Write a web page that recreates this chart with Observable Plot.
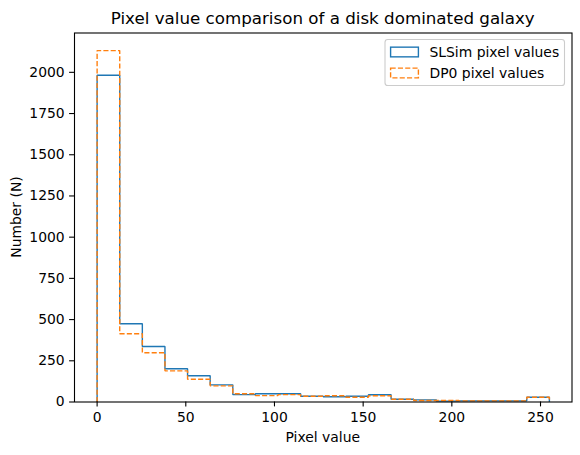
<!DOCTYPE html>
<html>
<head>
<meta charset="utf-8">
<script src="https://cdn.jsdelivr.net/npm/d3@7"></script>
<script src="https://cdn.jsdelivr.net/npm/@observablehq/plot@0.6"></script>
<style>
  html, body { margin: 0; padding: 0; background: white; }
  svg { display: block; }
</style>
</head>
<body>
<div id="chart"></div>
<script>
// Histogram bin edges: 20 bins from 0 to 255
const binStart = 0;
const binWidth = 12.75;
const slsimCounts = [1982, 475, 337, 202, 159, 104, 45, 50, 50, 35, 32, 35, 44, 17, 13, 5, 7, 7, 7, 29];
const dp0Counts   = [2132, 414, 299, 189, 138, 98, 50, 39, 45, 35, 38, 29, 38, 17, 9, 9, 7, 7, 7, 29];
const seriesNames = ["SLSim pixel values", "DP0 pixel values"];
const xTicks = [0, 50, 100, 150, 200, 250];
const yTicks = [0, 250, 500, 750, 1000, 1250, 1500, 1750, 2000];
const titleText = "Pixel value comparison of a disk dominated galaxy";
const xLabel = "Pixel value";
const yLabel = "Number (N)";

function stepPoints(counts) {
  const pts = [{x: binStart, y: 0}];
  counts.forEach((c, i) => {
    pts.push({x: binStart + i * binWidth, y: c});
    pts.push({x: binStart + (i + 1) * binWidth, y: c});
  });
  pts.push({x: binStart + counts.length * binWidth, y: 0});
  return pts;
}
const slsimPts = stepPoints(slsimCounts);
const dp0Pts = stepPoints(dp0Counts);

const xMax = binStart + slsimCounts.length * binWidth;
const xPad = (xMax - binStart) * 0.05;
const yMax = Math.max(...slsimCounts, ...dp0Counts) * 1.05;

const W = 580, H = 455;
const mL = 74, mR = 8.5, mT = 32.5, mB = 53.5;
const blue = "#1f77b4", orange = "#ff7f0e";
const lw = 1.39, dash = "5.1,2.2";

const chart = Plot.plot({
  width: W, height: H,
  marginLeft: mL, marginRight: mR, marginTop: mT, marginBottom: mB,
  style: {fontFamily: "DejaVu Sans", fontSize: "13.9px", background: "white", color: "black"},
  x: {domain: [binStart - xPad, xMax + xPad]},
  y: {domain: [0, yMax]},
  marks: [
    Plot.line(slsimPts, {x: "x", y: "y", stroke: blue, strokeWidth: lw, strokeLinecap: "butt", strokeLinejoin: "miter"}),
    Plot.line(dp0Pts, {x: "x", y: "y", stroke: orange, strokeWidth: lw, strokeDasharray: dash, strokeLinecap: "butt", strokeLinejoin: "miter"}),
    Plot.frame({stroke: "black", strokeWidth: 1.1}),
    Plot.axisX({ticks: xTicks, tickSize: 4.9, tickPadding: 4.9, tickFormat: d => String(d), label: null, strokeWidth: 1.1}),
    Plot.axisY({ticks: yTicks, tickSize: 4.9, tickPadding: 4.9, tickFormat: d => String(d), label: null, strokeWidth: 1.1})
  ]
});
document.getElementById("chart").appendChild(chart);

const svg = d3.select(chart);
const cx = mL + (W - mL - mR) / 2;
const cy = mT + (H - mT - mB) / 2;

svg.append("text").attr("x", cx).attr("y", 24).attr("text-anchor", "middle")
  .attr("font-family", "DejaVu Sans").attr("font-size", 16.7).attr("fill", "black").text(titleText);
svg.append("text").attr("x", cx).attr("y", 442).attr("text-anchor", "middle")
  .attr("font-family", "DejaVu Sans").attr("font-size", 13.9).attr("fill", "black").text(xLabel);
svg.append("text").attr("transform", `translate(21,${cy}) rotate(-90)`).attr("text-anchor", "middle")
  .attr("font-family", "DejaVu Sans").attr("font-size", 13.9).attr("fill", "black").text(yLabel);

// Legend
const lg = svg.append("g");
const lx0 = 385, ly0 = 39.5, lx1 = 564.5, ly1 = 85.5;
lg.append("rect").attr("x", lx0).attr("y", ly0).attr("width", lx1 - lx0).attr("height", ly1 - ly0)
  .attr("rx", 2.8).attr("fill", "white").attr("fill-opacity", 0.8).attr("stroke", "#cccccc").attr("stroke-width", 1.1);
const rows = [
  {name: seriesNames[0], color: blue, dash: null, cy: 52},
  {name: seriesNames[1], color: orange, dash: dash, cy: 73}
];
rows.forEach(r => {
  const rect = lg.append("rect").attr("x", 390.6).attr("y", r.cy - 4.85).attr("width", 27.8).attr("height", 9.7)
    .attr("fill", "none").attr("stroke", r.color).attr("stroke-width", lw);
  if (r.dash) rect.attr("stroke-dasharray", r.dash);
  lg.append("text").attr("x", 429.5).attr("y", r.cy).attr("dy", "0.36em").attr("text-anchor", "start")
    .attr("font-family", "DejaVu Sans").attr("font-size", 13.9).attr("fill", "black").text(r.name);
});
</script>
</body>
</html>
